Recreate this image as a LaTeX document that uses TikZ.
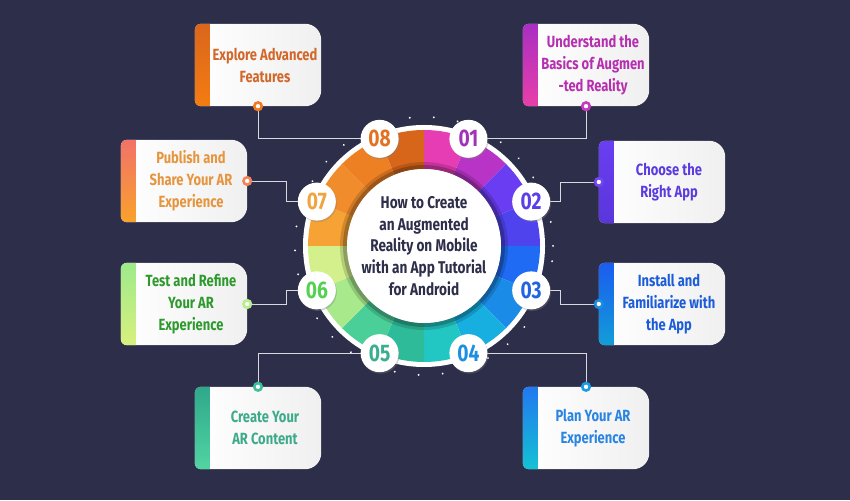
\documentclass[tikz,border=0pt]{standalone}
\usepackage{fontspec}
\newfontfamily\cond{Fira Sans}[FakeStretch=0.8]
\usetikzlibrary{calc,shadows}
\pgfdeclarelayer{back}\pgfdeclarelayer{lines}\pgfdeclarelayer{cards}
\pgfsetlayers{back,lines,cards,main}
\definecolor{bgc}{HTML}{2D2E4A}
\definecolor{connc}{HTML}{D8D8E0}
\definecolor{titlec}{HTML}{2D2E4A}
% segment colours
\definecolor{s1a}{HTML}{E63DB5}\definecolor{s1b}{HTML}{B834C6}
\definecolor{s2a}{HTML}{6A3CF2}\definecolor{s2b}{HTML}{4F43EE}
\definecolor{s3a}{HTML}{1F6BF3}\definecolor{s3b}{HTML}{1A8CE8}
\definecolor{s4a}{HTML}{17AEE0}\definecolor{s4b}{HTML}{22C7C4}
\definecolor{s5a}{HTML}{2EBB9A}\definecolor{s5b}{HTML}{4ACF98}
\definecolor{s6a}{HTML}{A8E98C}\definecolor{s6b}{HTML}{D4F08C}
\definecolor{s7a}{HTML}{F7A234}\definecolor{s7b}{HTML}{F08C2C}
\definecolor{s8a}{HTML}{EE8024}\definecolor{s8b}{HTML}{D8661A}
% text colours
\definecolor{t1}{HTML}{B52FB0}\definecolor{t2}{HTML}{5B3BE0}
\definecolor{t3}{HTML}{1C5CD8}\definecolor{t4}{HTML}{2A84E2}
\definecolor{t5}{HTML}{3DAA8A}\definecolor{t6}{HTML}{2E9A2E}
\definecolor{t7}{HTML}{E6953F}\definecolor{t8}{HTML}{D2672A}
% badge number colours
\definecolor{n1c}{HTML}{A233B8}\definecolor{n2c}{HTML}{5A40E6}
\definecolor{n3c}{HTML}{2163E0}\definecolor{n4c}{HTML}{1E8FE0}
\definecolor{n5c}{HTML}{3AAE90}\definecolor{n6c}{HTML}{55D050}
\definecolor{n7c}{HTML}{F0A33E}\definecolor{n8c}{HTML}{E27222}
% strip colours
\definecolor{p8a}{HTML}{D9661C}\definecolor{p8b}{HTML}{F47C12}
\definecolor{p1a}{HTML}{A92FC2}\definecolor{p1b}{HTML}{E83FA8}
\definecolor{p7a}{HTML}{F27268}\definecolor{p7b}{HTML}{F9A22C}
\definecolor{p6a}{HTML}{9EEA8A}\definecolor{p6b}{HTML}{D8F07E}
\definecolor{p5a}{HTML}{2EA88A}\definecolor{p5b}{HTML}{52D4A2}
\definecolor{p4a}{HTML}{2278F0}\definecolor{p4b}{HTML}{14C2D4}
\definecolor{p2a}{HTML}{6A3EF2}\definecolor{p2b}{HTML}{5A35DC}
\definecolor{p3a}{HTML}{1A5CF0}\definecolor{p3b}{HTML}{129ED8}
% dot colours
\definecolor{d8c}{HTML}{F07A20}\definecolor{d1c}{HTML}{C83ABF}
\definecolor{d7c}{HTML}{F4845A}\definecolor{d6c}{HTML}{B8EE8A}
\definecolor{d2c}{HTML}{7046F0}\definecolor{d3c}{HTML}{1C8CE0}
\definecolor{d5c}{HTML}{3DC09A}\definecolor{d4c}{HTML}{1C9CE4}

\tikzset{
  cardn/.style={minimum width=126pt, minimum height=82pt, inner sep=0pt, draw=none},
  cardtext/.style={align=center, font=\cond\bfseries\fontsize{16.2}{22}\selectfont, inner sep=0pt},
  badge/.style={circle, fill=white, minimum size=38pt, inner sep=0pt,
     font=\cond\bfseries\fontsize{24}{24}\selectfont,
     drop shadow={shadow xshift=1pt, shadow yshift=-1.5pt, opacity=0.35}},
  dotn/.style={circle, minimum size=7.5pt, inner sep=0pt, draw=#1, line width=2.6pt, fill=white},
  conn/.style={draw=connc, line width=0.9pt},
}
\newcommand\cardpath[1]{([xshift=6pt]#1.south west) -- ([xshift=-16pt]#1.south east)
  arc[start angle=-90,end angle=0,radius=16pt] -- ([yshift=-16pt]#1.north east)
  arc[start angle=0,end angle=90,radius=16pt] -- ([xshift=6pt]#1.north west)
  arc[start angle=90,end angle=180,radius=6pt] -- ([yshift=6pt]#1.south west)
  arc[start angle=180,end angle=270,radius=6pt] -- cycle}
\newcommand\cardbg[3]{%
  \begin{pgfonlayer}{cards}
    \fill[black,opacity=0.35] [xshift=2pt,yshift=-3pt] \cardpath{#1};
    \shade[left color=white, right color=black!6] \cardpath{#1};
    \begin{scope}
      \clip \cardpath{#1};
      \shade[top color=#2, bottom color=#3] (#1.south west) rectangle ([xshift=15pt]#1.north west);
    \end{scope}
  \end{pgfonlayer}}

\begin{document}
\begin{tikzpicture}[x=1pt,y=1pt]
\begin{pgfonlayer}{back}
  \fill[bgc] (0,0) rectangle (850,500);
\end{pgfonlayer}
\useasboundingbox (0,0) rectangle (850,500);

\coordinate (C) at (424,254);

% dotted outer circle
\draw[white, line width=2pt, line cap=round, dash pattern=on 0.1pt off 24pt] (C) circle (129);

% ring
\fill[white] (C) circle (121);
\foreach \i in {1,...,8}{
  \pgfmathsetmacro\aa{90-45*(\i-1)}
  \pgfmathsetmacro\am{\aa-22.5}
  \pgfmathsetmacro\ab{\aa-45}
  \fill[s\i a] ($(C)+(\aa:77)$) arc[start angle=\aa, end angle=\am, radius=77]
     -- ($(C)+(\am:116)$) arc[start angle=\am, end angle=\aa, radius=116] -- cycle;
  \fill[s\i b] ($(C)+(\am:77)$) arc[start angle=\am, end angle=\ab, radius=77]
     -- ($(C)+(\ab:116)$) arc[start angle=\ab, end angle=\am, radius=116] -- cycle;
}
\fill[black,opacity=0.22] (C) circle (81);
\fill[black,opacity=0.15] (C) circle (84);
\fill[white] (C) circle (77);

\node[align=center, text=titlec, font=\cond\bfseries\fontsize{17}{21.7}\selectfont] (title) at (C)
  {How to Create\\an Augmented\\Reality on Mobile\\with an App Tutorial\\for Android};

% badges
\node[badge, text=n1c] (n1) at ($(C)+(67.5:116)$) {01};
\node[badge, text=n2c] (n2) at ($(C)+(22.5:116)$) {02};
\node[badge, text=n3c] (n3) at ($(C)+(-22.5:116)$) {03};
\node[badge, text=n4c] (n4) at ($(C)+(-67.5:116)$) {04};
\node[badge, text=n5c] (n5) at ($(C)+(-112.5:116)$) {05};
\node[badge, text=n6c] (n6) at ($(C)+(-157.5:116)$) {06};
\node[badge, text=n7c] (n7) at ($(C)+(157.5:116)$) {07};
\node[badge, text=n8c] (n8) at ($(C)+(112.5:116)$) {08};

% cards
\node[cardn] (b8) at (258,435) {};
\node[cardn] (b1) at (586,435) {};
\node[cardn] (b7) at (184,319) {};
\node[cardn] (b6) at (184,196) {};
\node[cardn] (b2) at (662,318) {};
\node[cardn] (b3) at (662,196) {};
\node[cardn] (b5) at (258,72) {};
\node[cardn] (b4) at (586,72) {};

\cardbg{b8}{p8a}{p8b}
\cardbg{b1}{p1a}{p1b}
\cardbg{b7}{p7a}{p7b}
\cardbg{b6}{p6a}{p6b}
\cardbg{b2}{p2a}{p2b}
\cardbg{b3}{p3a}{p3b}
\cardbg{b5}{p5a}{p5b}
\cardbg{b4}{p4a}{p4b}

\node[cardtext, text=t8] (l8) at ([xshift=7pt]b8.center) {Explore Advanced\\Features};
\node[cardtext, text=t1] (l1) at ([xshift=7pt]b1.center) {Understand the\\Basics of Augmen\\-ted Reality};
\node[cardtext, text=t7] (l7) at ([xshift=7pt]b7.center) {Publish and\\Share Your AR\\Experience};
\node[cardtext, text=t6] (l6) at ([xshift=7pt]b6.center) {Test and Refine\\Your AR\\Experience};
\node[cardtext, text=t2] (l2) at ([xshift=7pt]b2.center) {Choose the\\Right App};
\node[cardtext, text=t3] (l3) at ([xshift=7pt]b3.center) {Install and\\Familiarize with\\the App};
\node[cardtext, text=t5] (l5) at ([xshift=7pt]b5.center) {Create Your\\AR Content};
\node[cardtext, text=t4] (l4) at ([xshift=7pt]b4.center) {Plan Your AR\\Experience};

% dots
\node[dotn=d8c] (d8) at (b8.south) {};
\node[dotn=d1c] (d1) at (b1.south) {};
\node[dotn=d7c] (d7) at (b7.east) {};
\node[dotn=d6c] (d6) at (b6.east) {};
\node[dotn=d2c] (d2) at (b2.west) {};
\node[dotn=d3c] (d3) at (b3.west) {};
\node[dotn=d5c] (d5) at (b5.north) {};
\node[dotn=d4c] (d4) at (b4.north) {};

% connectors
\begin{pgfonlayer}{lines}
  \draw[conn] (d8.center) |- (n8.center);
  \draw[conn] (d1.center) |- (n1.center);
  \draw[conn] (d7.center) -- ++(39,0) |- (n7.center);
  \draw[conn] (d6.center) -- ++(39,0) |- (n6.center);
  \draw[conn] (d2.center) -- ++(-38,0) |- (n2.center);
  \draw[conn] (d3.center) -- ++(-38,0) |- (n3.center);
  \draw[conn] (d5.center) |- (n5.center);
  \draw[conn] (d4.center) |- (n4.center);
\end{pgfonlayer}
\end{tikzpicture}
\end{document}
